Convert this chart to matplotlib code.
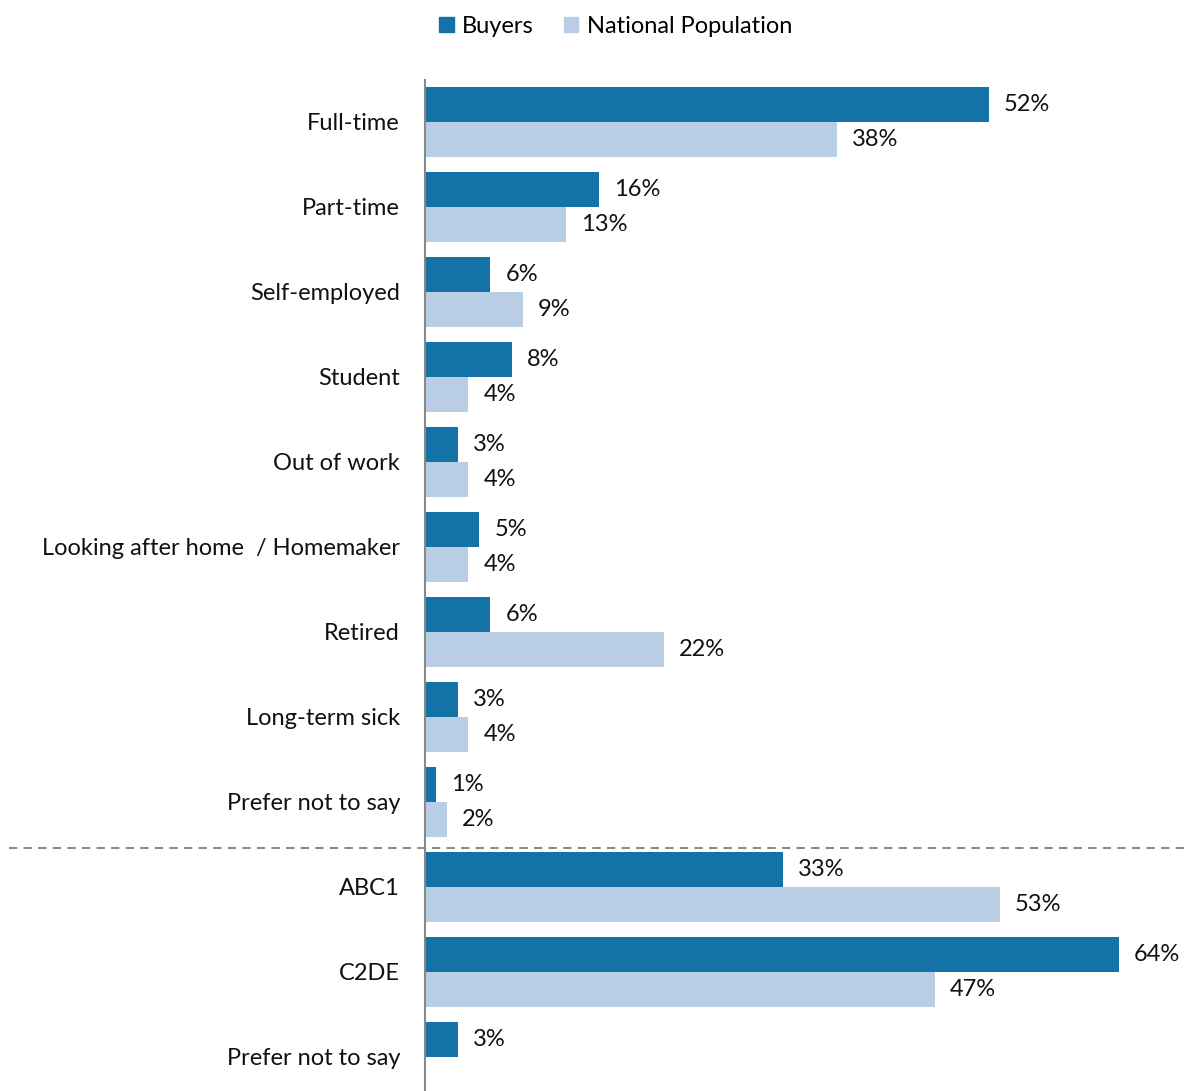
"""
Employment status and social grade: buyers vs national population.
"""
import matplotlib
matplotlib.use("Agg")
import matplotlib.pyplot as plt
import matplotlib.transforms as mtransforms
import numpy as np

plt.rcParams['font.family'] = ['Lato', 'DejaVu Sans']

categories = ["Full-time", "Part-time", "Self-employed", "Student", "Out of work",
              "Looking after home  / Homemaker", "Retired", "Long-term sick",
              "Prefer not to say", "ABC1", "C2DE", "Prefer not to say"]
buyers = [52, 16, 6, 8, 3, 5, 6, 3, 1, 33, 64, 3]
national = [38, 13, 9, 4, 4, 4, 22, 4, 2, 53, 47, None]
series_names = ["Buyers", "National Population"]

BUYER_COLOR = "#1473a6"
NATIONAL_COLOR = "#b9cde5"
FS = 17

fig = plt.figure(figsize=(11.84, 10.91), dpi=100)
ax = fig.add_axes([0.359, 0.0, 0.641, 0.9267])

y = np.arange(len(categories))
h = 0.41

# buyers above the category centre, national below
for i, (b, n) in enumerate(zip(buyers, national)):
    ax.barh(y[i] - h / 2, b, height=h, color=BUYER_COLOR, zorder=2)
    ax.annotate(f"{b}%", (b, y[i] - h / 2), xytext=(11, 0), textcoords="offset points",
                va="center", ha="left", fontsize=FS, color="#111111")
    if n is not None:
        ax.barh(y[i] + h / 2, n, height=h, color=NATIONAL_COLOR, zorder=2)
        ax.annotate(f"{n}%", (n, y[i] + h / 2), xytext=(11, 0), textcoords="offset points",
                    va="center", ha="left", fontsize=FS, color="#111111")

ax.set_xlim(0, 70)
ax.set_ylim(11.4, -0.494)
ax.set_yticks(y)
ax.set_yticklabels(categories, fontsize=FS, color="#111111")
ax.tick_params(axis="y", length=0, pad=18)
ax.set_xticks([])

for side in ["top", "right", "bottom"]:
    ax.spines[side].set_visible(False)
ax.spines["left"].set_color("#888888")
ax.spines["left"].set_linewidth(1.5)

# dashed separator between employment status and social grade
trans = mtransforms.blended_transform_factory(fig.transFigure, ax.transData)
ax.plot([0.008, 1.0], [8.54, 8.54], transform=trans, clip_on=False,
        color="#8c8c8c", linestyle=(0, (4, 3)), linewidth=1.5, zorder=3)

handles = [plt.Rectangle((0, 0), 1, 1, color=BUYER_COLOR),
           plt.Rectangle((0, 0), 1, 1, color=NATIONAL_COLOR)]
fig.legend(handles, series_names, loc="center", bbox_to_anchor=(0.52, 0.976),
           ncol=2, frameon=False, fontsize=FS, handlelength=0.6, handleheight=0.6,
           handletextpad=0.35, columnspacing=1.3)

fig.savefig("out.png", dpi=100)
